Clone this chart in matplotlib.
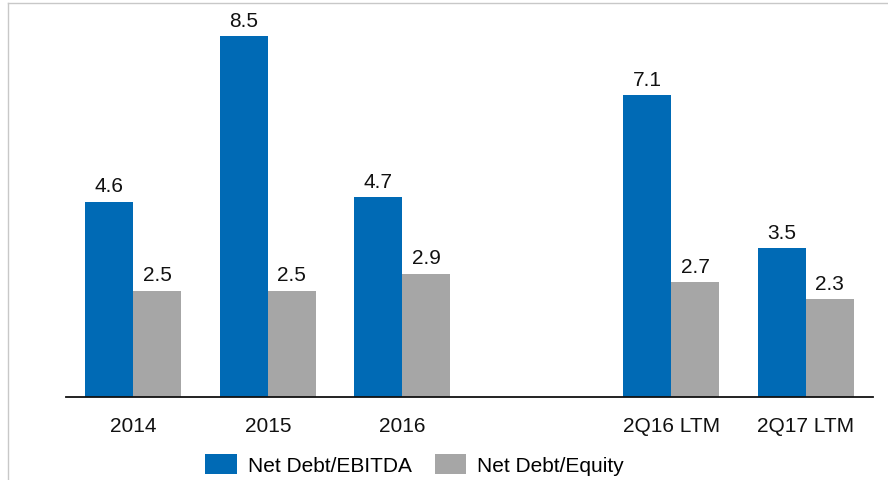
import numpy as np
import matplotlib.pyplot as plt
from matplotlib.lines import Line2D

plt.rcParams['font.family'] = ['Liberation Sans', 'DejaVu Sans']

categories = ['2014', '2015', '2016', '', '2Q16 LTM', '2Q17 LTM']
debt_ebitda = [4.6, 8.5, 4.7, None, 7.1, 3.5]
debt_equity = [2.5, 2.5, 2.9, None, 2.7, 2.3]
series_names = ['Net Debt/EBITDA', 'Net Debt/Equity']

blue = '#006AB5'
gray = '#A6A6A6'

fig = plt.figure(figsize=(8.88, 4.81), dpi=100)
ax = fig.add_axes([66/888, 83/481, 807/888, 378/481])

x = np.arange(len(categories))
w = 0.358
e1 = np.array(debt_ebitda, dtype=float)
e2 = np.array(debt_equity, dtype=float)
b1 = ax.bar(x - w/2, e1, w, color=blue, label=series_names[0])
b2 = ax.bar(x + w/2, e2, w, color=gray, label=series_names[1])

for xs, vals in ((x - w/2, e1), (x + w/2, e2)):
    for xi, v in zip(xs, vals):
        if np.isnan(v):
            continue
        ax.annotate('%.1f' % v, (xi, v), xytext=(0, 7.5), textcoords='offset points',
                    ha='center', va='baseline', fontsize=15, color='#111111')

ax.set_xlim(-0.5, len(categories) - 0.5)
ax.set_ylim(0, 8.9)
ax.set_xticks(x)
ax.set_xticklabels(categories, fontsize=15, color='#111111')
ax.tick_params(axis='x', length=0, pad=13.5)
ax.set_yticks([])
for s in ['top', 'left', 'right']:
    ax.spines[s].set_visible(False)
ax.spines['bottom'].set_linewidth(1.3)
ax.spines['bottom'].set_color('#111111')

fig.legend(handles=[b1, b2], loc='center', bbox_to_anchor=(414.5/888, 15.5/481),
           ncol=2, frameon=False, fontsize=15, handlelength=1.5, handleheight=1.1,
           handletextpad=0.53, columnspacing=1.1, borderpad=0)

# light frame on top and left
fig.add_artist(Line2D([8/888, 1], [1 - 4/481, 1 - 4/481], transform=fig.transFigure, color='#C8C8C8', lw=1))
fig.add_artist(Line2D([8/888, 8/888], [0, 1 - 4/481], transform=fig.transFigure, color='#C8C8C8', lw=1))

fig.savefig('out.png', dpi=100)
